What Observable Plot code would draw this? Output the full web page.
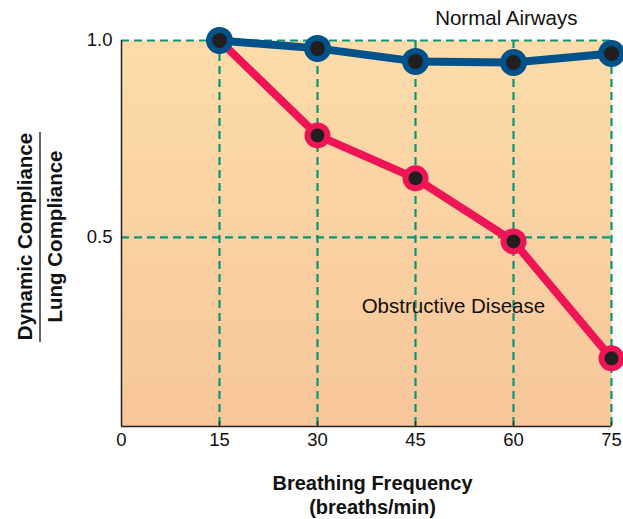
<!DOCTYPE html>
<html>
<head>
<meta charset="utf-8">
<script src="https://cdn.jsdelivr.net/npm/d3@7"></script>
<script src="https://cdn.jsdelivr.net/npm/@observablehq/plot@0.6"></script>
<style>
  html, body { margin: 0; padding: 0; background: #fff; }
  svg { display: block; }
</style>
</head>
<body>
<div id="chart"></div>
<script>
const freq = [15, 30, 45, 60, 75];
const normal = [1.0, 0.98, 0.947, 0.944, 0.967];
const obstructive = [1.0, 0.759, 0.65, 0.49, 0.193];
const xTicks = [0, 15, 30, 45, 60, 75];
const yTicks = [0.5, 1.0];
const xDomain = [0, 75];
const yDomain = [0.02, 1.0];
const seriesLabels = [
  {text: "Normal Airways", x: 58.9, y: 1.056},
  {text: "Obstructive Disease", x: 50.8, y: 0.325}
];

const normalData = freq.map((f, i) => ({x: f, y: normal[i]}));
const obstrData = freq.map((f, i) => ({x: f, y: obstructive[i]}));

const navy = "#00528a";
const pink = "#ee1556";
const teal = "#0a9478";
const dotInk = "#231f20";
const font = "'Liberation Sans', Arial, Helvetica, sans-serif";

const chart = Plot.plot({
  width: 623,
  height: 519,
  marginLeft: 121,
  marginRight: 12,
  marginTop: 40,
  marginBottom: 93,
  style: {fontFamily: font, fontSize: "19px", color: "#111", background: "transparent"},
  x: {domain: xDomain},
  y: {domain: yDomain},
  marks: [
    Plot.frame({fill: "url(#bgGrad)", stroke: "none"}),
    Plot.ruleY(yTicks, {stroke: teal, strokeWidth: 2.2, strokeDasharray: "8,5"}),
    Plot.ruleX(freq, {stroke: teal, strokeWidth: 2.2, strokeDasharray: "8,5"}),
    Plot.ruleX(freq, {y1: yDomain[0], y2: yDomain[0] + 0.012, stroke: "#333", strokeWidth: 1.5}),
    Plot.ruleX([xDomain[0]], {stroke: "#222", strokeWidth: 1.5}),
    Plot.ruleY([yDomain[0]], {stroke: "#222", strokeWidth: 1.5}),
    Plot.axisY(yTicks, {tickSize: 0, tickPadding: 9, tickFormat: d3.format(".1f"), fontSize: 18.5, label: null}),
    Plot.axisX(xTicks, {tickSize: 0, tickPadding: 6, fontSize: 18.5, label: null}),
    Plot.line(obstrData, {x: "x", y: "y", stroke: pink, strokeWidth: 8, strokeLinejoin: "round"}),
    Plot.dot(obstrData, {x: "x", y: "y", r: 13, fill: pink, stroke: "none"}),
    Plot.dot(obstrData, {x: "x", y: "y", r: 7, fill: dotInk, stroke: "none"}),
    Plot.line(normalData, {x: "x", y: "y", stroke: navy, strokeWidth: 8, strokeLinejoin: "round"}),
    Plot.dot(normalData, {x: "x", y: "y", r: 13.5, fill: navy, stroke: "none"}),
    Plot.dot(normalData, {x: "x", y: "y", r: 7.5, fill: dotInk, stroke: "none"}),
    Plot.text(seriesLabels, {x: "x", y: "y", text: "text", fontSize: 20.5, fill: "#111"}),
    Plot.text(["Breathing Frequency\n(breaths/min)"], {
      frameAnchor: "bottom", dx: 6, dy: 68, lineAnchor: "middle", lineHeight: 1.18,
      textAnchor: "middle", fontSize: 20, fontWeight: "bold", fill: "#111"
    }),
    Plot.text(["Dynamic Compliance"], {
      frameAnchor: "left", dx: -96, dy: 3, rotate: -90, textAnchor: "middle",
      fontSize: 20.5, fontWeight: "bold", fill: "#111"
    }),
    Plot.text(["Lung Compliance"], {
      frameAnchor: "left", dx: -66, dy: 3, rotate: -90, textAnchor: "middle",
      fontSize: 20.5, fontWeight: "bold", fill: "#111"
    })
  ]
});

const svg = d3.select(chart);
svg.insert("defs", ":first-child").html(
  '<linearGradient id="bgGrad" x1="0" y1="0" x2="0" y2="1">' +
  '<stop offset="0%" stop-color="#fddcaa"/>' +
  '<stop offset="100%" stop-color="#f7c69a"/>' +
  '</linearGradient>'
);
// fraction bar between the two y-axis title lines
const yS = chart.scale("y");
const midY = (yS.range[0] + yS.range[1]) / 2 + 4;
svg.append("line")
  .attr("x1", 121 - 81).attr("x2", 121 - 81)
  .attr("y1", midY - 105).attr("y2", midY + 105)
  .attr("stroke", "#111").attr("stroke-width", 1.3);

document.getElementById("chart").appendChild(chart);
</script>
</body>
</html>
